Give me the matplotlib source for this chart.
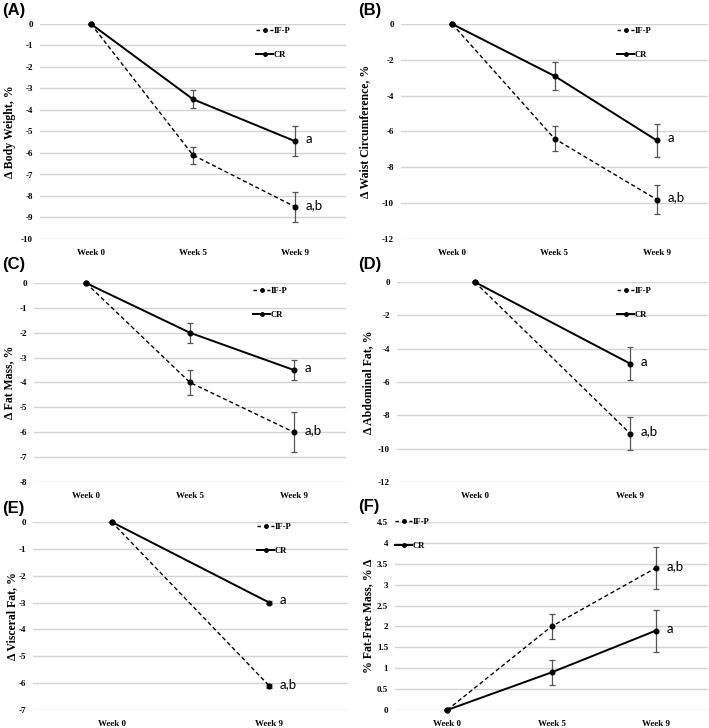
import matplotlib
matplotlib.use("Agg")
import matplotlib.pyplot as plt
from matplotlib.lines import Line2D
from matplotlib.ticker import FuncFormatter
import numpy as np

W, H = 709, 728

# ---------------- data ----------------
weeks3 = ["Week 0", "Week 5", "Week 9"]
weeks2 = ["Week 0", "Week 9"]

bw_ifp = [0, -6.1, -8.5]
bw_ifp_err = [0, 0.4, 0.7]
bw_cr = [0, -3.5, -5.45]
bw_cr_err = [0, 0.43, 0.7]

wc_ifp = [0, -6.4, -9.8]
wc_ifp_err = [0, 0.7, 0.8]
wc_cr = [0, -2.9, -6.5]
wc_cr_err = [0, 0.8, 0.9]

fm_ifp = [0, -4.0, -6.0]
fm_ifp_err = [0, 0.5, 0.8]
fm_cr = [0, -2.0, -3.5]
fm_cr_err = [0, 0.4, 0.4]

af_ifp = [0, -9.1]
af_ifp_err = [0, 1.0]
af_cr = [0, -4.9]
af_cr_err = [0, 1.0]

vf_ifp = [0, -6.1]
vf_ifp_err = [0, 0.08]
vf_cr = [0, -3.0]
vf_cr_err = [0, 0.06]

ffm_ifp = [0, 2.0, 3.4]
ffm_ifp_err = [0, 0.3, 0.5]
ffm_cr = [0, 0.9, 1.9]
ffm_cr_err = [0, 0.3, 0.5]

fig = plt.figure(figsize=(W / 100, H / 100), dpi=100)

SERIF = "Liberation Serif"
SANS = "Liberation Sans"
ANN = "Lato"


def rect(l, t, r, b):
    return [l / W, 1 - b / H, (r - l) / W, (b - t) / H]


def panel(letter, box, cats, ifp, ifp_err, cr, cr_err, ylim, ystep, ylabel,
          ylab_x, leg_xy, lab_xy):
    l, t, r, b = box
    ax = fig.add_axes(rect(l, t, r, b))
    x = list(range(len(cats)))
    ax.set_xlim(-0.5, len(cats) - 0.5)
    ax.set_ylim(*ylim)
    for s in ax.spines.values():
        s.set_visible(False)
    ticks = np.arange(ylim[0], ylim[1] + ystep / 2, ystep)
    ax.set_yticks(ticks)
    ax.yaxis.set_major_formatter(FuncFormatter(lambda v, p: ("%g" % round(v, 2))))
    ax.grid(axis="y", color="#d4d4d4", lw=1.0)
    ax.set_axisbelow(True)
    ax.set_xticks(x)
    ax.set_xticklabels(cats)
    ax.tick_params(axis="both", length=0)
    ax.tick_params(axis="y", pad=5)
    ax.tick_params(axis="x", pad=7)
    for lab in ax.get_xticklabels() + ax.get_yticklabels():
        lab.set_fontfamily(SERIF)
        lab.set_fontweight("bold")
        lab.set_fontsize(6.5)

    ax.errorbar(x, ifp, yerr=ifp_err, color="black", ecolor="#555555",
                elinewidth=0.9, capsize=2.2, capthick=0.9, lw=1.0,
                linestyle=(0, (3, 2)), marker="o", ms=3.3, clip_on=False,
                zorder=3)
    ax.errorbar(x, cr, yerr=cr_err, color="black", ecolor="#555555",
                elinewidth=0.9, capsize=2.2, capthick=0.9, lw=1.4,
                linestyle="-", marker="o", ms=3.3, clip_on=False, zorder=3)

    ax.set_ylabel(ylabel, fontfamily=SERIF, fontweight="bold", fontsize=8.5)
    ax.yaxis.set_label_coords((ylab_x + 5 - l) / (r - l), 0.5)

    # significance letters
    ax.annotate("a", (x[-1], cr[-1]), xytext=(7.5, 1.5), textcoords="offset points",
                ha="left", va="center", fontfamily=ANN, fontsize=9.5)
    ax.annotate("a,b", (x[-1], ifp[-1]), xytext=(7.5, 1.5), textcoords="offset points",
                ha="left", va="center", fontfamily=ANN, fontsize=9.5)

    handles = [
        Line2D([], [], color="black", lw=1.0, linestyle=(0, (2.5, 2.5)),
               marker="o", ms=2.5),
        Line2D([], [], color="black", lw=1.4, linestyle="-", marker="o", ms=2.5),
    ]
    ax.legend(handles, ["IF-P", "CR"], loc="upper left",
              bbox_to_anchor=(leg_xy[0] / W, 1 - leg_xy[1] / H),
              bbox_transform=fig.transFigure, frameon=False,
              borderpad=0, borderaxespad=0, handlelength=2.0,
              handletextpad=0.1, labelspacing=1.8,
              prop={"family": SERIF, "weight": "bold", "size": 6.2})
    fig.text(lab_xy[0] / W, 1 - lab_xy[1] / H, "(%s)" % letter,
             fontfamily=SANS, fontweight="bold", fontsize=12,
             ha="left", va="center")
    return ax


panel("A", (40, 24, 346, 239), weeks3, bw_ifp, bw_ifp_err, bw_cr, bw_cr_err,
      (-10, 0), 1, "Δ Body Weight, %", 11, (256, 27), (2, 11))
panel("B", (401, 24, 708, 239), weeks3, wc_ifp, wc_ifp_err, wc_cr, wc_cr_err,
      (-12, 0), 2, "Δ Waist Circumference, %", 366, (617, 27), (358, 11))
panel("C", (34, 283, 346, 482), weeks3, fm_ifp, fm_ifp_err, fm_cr, fm_cr_err,
      (-8, 0), 1, "Δ Fat Mass, %", 10, (253, 287), (2, 265))
panel("D", (397, 282, 708, 482), weeks2, af_ifp, af_ifp_err, af_cr, af_cr_err,
      (-12, 0), 2, "Δ Abdominal Fat, %", 369, (617, 287), (358, 265))
panel("E", (33, 522, 348, 710), weeks2, vf_ifp, vf_ifp_err, vf_cr, vf_cr_err,
      (-7, 0), 1, "Δ Visceral Fat, %", 13, (257, 523), (2, 509))
panel("F", (395, 522, 708, 710), weeks3, ffm_ifp, ffm_ifp_err, ffm_cr, ffm_cr_err,
      (0, 4.5), 0.5, "% Fat-Free Mass, % Δ", 369, (395, 518), (358, 507))

fig.savefig("out.png", dpi=100, facecolor="white")
